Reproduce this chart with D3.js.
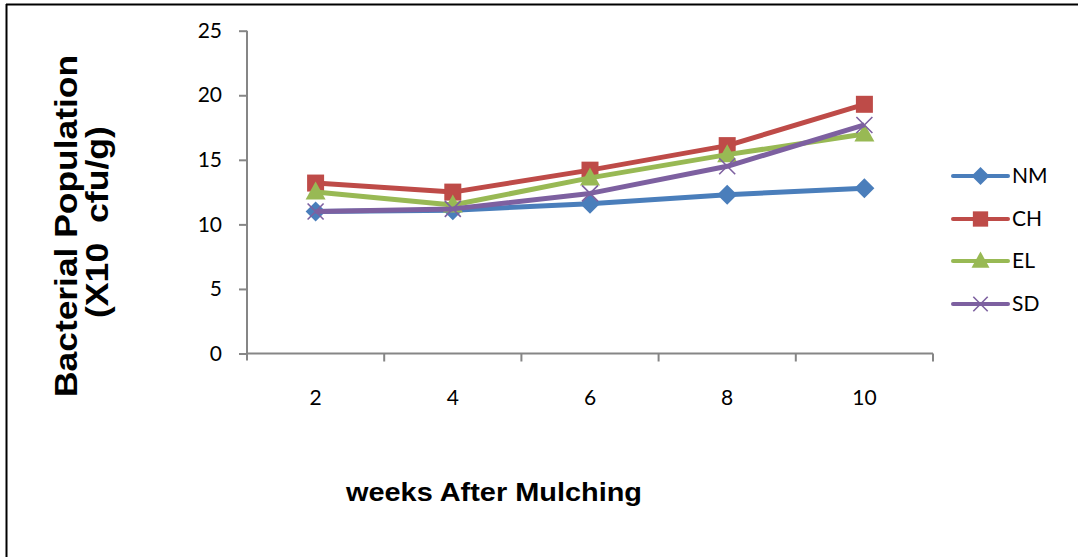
<!DOCTYPE html>
<html>
<head>
<meta charset="utf-8">
<script src="https://cdn.jsdelivr.net/npm/d3@7"></script>
<style>
  html, body { margin: 0; padding: 0; background: #fff; }
  svg { display: block; }
</style>
</head>
<body>
<svg id="chart" width="1078" height="557"></svg>
<script>
// ---- data ----
const weeks = ["2", "4", "6", "8", "10"];
const seriesNames = ["NM", "CH", "EL", "SD"];
const NM = [11.0, 11.1, 11.6, 12.3, 12.8];
const CH = [13.2, 12.5, 14.2, 16.1, 19.3];
const EL = [12.5, 11.5, 13.6, 15.4, 17.0];
const SD = [11.0, 11.2, 12.4, 14.5, 17.7];
const yTicks = [0, 5, 10, 15, 20, 25];

const colors = { NM: "#4A7EBB", CH: "#BE4B48", EL: "#98B954", SD: "#7D60A0" };
const markers = { NM: "diamond", CH: "square", EL: "triangle", SD: "x" };
const seriesData = { NM, CH, EL, SD };

const svg = d3.select("#chart");
const tickFont = "Lato, 'Open Sans', sans-serif";

// frame (top and left border)
svg.append("line").attr("x1", 6).attr("x2", 1078).attr("y1", 4.5).attr("y2", 4.5)
  .attr("stroke", "#000").attr("stroke-width", 2);
svg.append("line").attr("x1", 6.5).attr("x2", 6.5).attr("y1", 4).attr("y2", 557)
  .attr("stroke", "#000").attr("stroke-width", 2);

const x = d3.scaleBand().domain(weeks).range([247, 933]).paddingInner(0).paddingOuter(0);
const y = d3.scaleLinear().domain([0, 25]).range([353.5, 30.7]);
const cx = d => x(d) + x.bandwidth() / 2;

// y axis
const yAxis = d3.axisLeft(y).tickValues(yTicks).tickSize(8).tickPadding(17);
const gy = svg.append("g").attr("transform", "translate(247,0)").call(yAxis);
gy.select(".domain").attr("stroke", "#868686").attr("stroke-width", 2)
  .attr("d", `M0,${y(25)}V${y(0) + 7}`);
gy.selectAll(".tick line").attr("stroke", "#868686").attr("stroke-width", 2);
gy.selectAll(".tick text").attr("fill", "#000").style("font-family", tickFont).style("font-size", "21px");

// x axis
const xAxis = d3.axisBottom(x).tickSize(0).tickPadding(37);
const gx = svg.append("g").attr("transform", `translate(0,${y(0)})`).call(xAxis);
gx.select(".domain").attr("stroke", "#868686").attr("stroke-width", 2)
  .attr("d", `M247,0H933`);
gx.selectAll(".tick text").attr("fill", "#000").style("font-family", tickFont).style("font-size", "21px");
// boundary ticks
const bounds = weeks.map(w => x(w)).concat([x(weeks[weeks.length - 1]) + x.bandwidth()]);
gx.selectAll("line.bt").data(bounds.slice(1)).enter().append("line").attr("class", "bt")
  .attr("x1", d => d).attr("x2", d => d).attr("y1", 0).attr("y2", 8)
  .attr("stroke", "#868686").attr("stroke-width", 2);

// marker drawing
function drawMarker(g, type, color, px, py, s) {
  if (type === "diamond") {
    g.append("path").attr("d", `M${px},${py - s}L${px + s},${py}L${px},${py + s}L${px - s},${py}Z`).attr("fill", color);
  } else if (type === "square") {
    g.append("rect").attr("x", px - s * 0.85).attr("y", py - s * 0.85).attr("width", s * 1.7).attr("height", s * 1.7).attr("fill", color);
  } else if (type === "triangle") {
    g.append("path").attr("d", `M${px},${py - s * 1.05}L${px + s},${py + s * 0.75}L${px - s},${py + s * 0.75}Z`).attr("fill", color);
  } else if (type === "x") {
    const r = s * 0.8;
    g.append("path").attr("d", `M${px - r},${py - r}L${px + r},${py + r}M${px - r},${py + r}L${px + r},${py - r}`)
      .attr("stroke", color).attr("stroke-width", 1.6).attr("fill", "none");
  }
}

const line = d3.line().x((d, i) => cx(weeks[i])).y(d => y(d));
const plot = svg.append("g");
seriesNames.forEach(name => {
  const g = plot.append("g");
  g.append("path").datum(seriesData[name]).attr("d", line)
    .attr("fill", "none").attr("stroke", colors[name]).attr("stroke-width", 5).attr("stroke-linejoin", "round");
  seriesData[name].forEach((v, i) => drawMarker(g, markers[name], colors[name], cx(weeks[i]), y(v), 10));
});

// legend
const legendY = [176, 219, 261, 304];
seriesNames.forEach((name, i) => {
  const g = svg.append("g");
  g.append("line").attr("x1", 953).attr("x2", 1008).attr("y1", legendY[i]).attr("y2", legendY[i])
    .attr("stroke", colors[name]).attr("stroke-width", 4).attr("stroke-linecap", "round");
  drawMarker(g, markers[name], colors[name], 980.5, legendY[i], 9);
  g.append("text").attr("x", 1012).attr("y", legendY[i]).attr("dy", "0.35em")
    .style("font-family", tickFont).style("font-size", "21px").text(name);
});

// axis titles
const titleFont = "'Liberation Sans', Arial, sans-serif";
svg.append("text").attr("transform", "translate(77,226) rotate(-90)")
  .attr("text-anchor", "middle").style("font-family", titleFont).style("font-weight", "bold").style("font-size", "31px")
  .attr("textLength", 342).attr("lengthAdjust", "spacingAndGlyphs")
  .text("Bacterial Population");
svg.append("text").attr("transform", "translate(108,222) rotate(-90)")
  .attr("text-anchor", "middle").style("font-family", titleFont).style("font-weight", "bold").style("font-size", "31px")
  .attr("textLength", 192).attr("lengthAdjust", "spacingAndGlyphs")
  .style("white-space", "pre").attr("xml:space", "preserve").text("(X10  cfu/g)");
svg.append("text").attr("x", 494).attr("y", 501).attr("text-anchor", "middle")
  .style("font-family", titleFont).style("font-weight", "bold").style("font-size", "26px")
  .attr("textLength", 296).attr("lengthAdjust", "spacingAndGlyphs")
  .text("weeks After Mulching");
</script>
</body>
</html>
